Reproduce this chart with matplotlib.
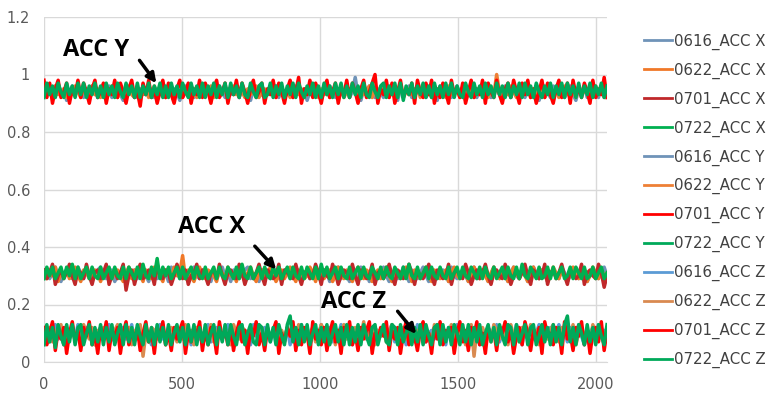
import numpy as np
import matplotlib.pyplot as plt

# sample values, in hundredths of g
acc_x_0616 = [30, 32, 29, 31, 33, 30, 28, 31, 32, 30, 29, 31, 33, 31, 29, 32, 30, 28, 31, 32,
              33, 30, 29, 31, 32, 28, 30, 31, 33, 29, 31, 30, 32, 29, 31, 33, 30, 28, 32, 31,
              29, 30, 32, 31, 28, 33, 30, 31, 29, 32, 30, 28, 31, 33, 30, 29, 32, 31, 30, 28,
              32, 29, 31, 33, 30, 31, 28, 32, 30, 29, 31, 32, 33, 29, 30, 31, 28, 32, 31, 30,
              29, 33, 31, 30, 28, 32, 31, 29, 30, 33, 31, 28, 30, 32, 29, 31, 33, 30, 29, 32,
              31, 28, 30, 32, 33, 29, 31, 30, 28, 32, 31, 29, 33, 30, 31, 28, 32, 30, 29, 31,
              33, 30, 28, 31, 32, 29, 30, 33, 31, 28, 32, 30, 29, 31, 33, 30, 28, 32, 31, 29,
              30, 32, 31, 28, 33, 30, 29, 31, 32, 30, 28, 31, 33, 29, 30, 32, 31, 28, 30, 33,
              31, 29, 32, 30, 28, 31, 33, 30, 29, 32, 31, 28, 30, 33, 31, 29, 32, 30, 28, 31,
              32, 30, 29, 33, 31, 28, 30, 32, 31, 29, 33, 30, 28, 31, 32, 30, 29, 31, 33, 30]
acc_x_0622 = [31, 29, 32, 30, 33, 28, 31, 30, 32, 29, 31, 33, 30, 28, 32, 31, 29, 30, 32, 31,
              28, 31, 33, 30, 29, 31, 32, 30, 28, 31, 33, 29, 32, 30, 31, 28, 32, 30, 29, 33,
              31, 30, 28, 32, 31, 29, 33, 30, 31, 37, 29, 32, 30, 28, 31, 33, 30, 29, 32, 31,
              30, 28, 32, 31, 29, 33, 30, 31, 28, 32, 30, 29, 31, 33, 30, 28, 31, 32, 29, 30,
              33, 31, 28, 30, 32, 29, 31, 33, 30, 28, 32, 31, 29, 30, 33, 31, 28, 32, 30, 29,
              31, 32, 28, 30, 33, 31, 29, 32, 30, 28, 31, 33, 30, 29, 32, 31, 28, 30, 32, 29,
              31, 33, 30, 28, 32, 31, 29, 30, 33, 31, 28, 32, 30, 29, 31, 33, 30, 28, 32, 31,
              29, 30, 32, 28, 31, 33, 30, 29, 32, 31, 28, 30, 33, 31, 29, 32, 30, 28, 31, 33,
              30, 29, 32, 31, 28, 30, 33, 31, 29, 32, 30, 28, 31, 33, 30, 29, 32, 31, 28, 30,
              33, 31, 29, 32, 30, 28, 31, 33, 30, 29, 32, 31, 28, 30, 33, 31, 29, 32, 30, 31]
acc_x_0701 = [32, 29, 31, 34, 27, 30, 32, 29, 31, 34, 30, 27, 32, 31, 29, 34, 30, 27, 31, 32,
              29, 31, 34, 27, 30, 32, 29, 31, 34, 25, 30, 32, 27, 31, 34, 29, 30, 32, 31, 27,
              34, 30, 29, 32, 31, 27, 30, 34, 31, 29, 32, 27, 30, 31, 34, 29, 32, 30, 27, 31,
              32, 29, 34, 30, 27, 31, 32, 30, 29, 34, 31, 27, 30, 32, 29, 31, 34, 30, 27, 32,
              31, 29, 30, 34, 27, 32, 31, 30, 29, 34, 30, 27, 31, 32, 29, 30, 34, 31, 27, 32,
              30, 29, 34, 31, 27, 30, 32, 31, 29, 34, 30, 27, 32, 31, 29, 30, 34, 27, 31, 32,
              29, 31, 34, 30, 27, 32, 31, 29, 30, 34, 31, 27, 32, 30, 29, 31, 34, 30, 27, 32,
              31, 29, 30, 34, 27, 31, 32, 30, 29, 34, 31, 27, 30, 32, 29, 31, 34, 30, 27, 31,
              32, 30, 29, 34, 31, 27, 30, 32, 29, 31, 34, 30, 27, 32, 31, 29, 30, 34, 27, 31,
              32, 29, 31, 34, 30, 27, 32, 31, 29, 30, 34, 27, 31, 32, 30, 29, 34, 31, 26, 30]
acc_x_0722 = [29, 33, 30, 33, 29, 31, 33, 29, 33, 30, 34, 29, 33, 29, 31, 33, 29, 33, 30, 29,
              33, 29, 31, 33, 29, 33, 30, 29, 33, 29, 33, 31, 29, 33, 29, 34, 30, 29, 33, 30,
              36, 29, 33, 30, 33, 29, 31, 33, 29, 33, 29, 31, 33, 29, 33, 30, 29, 33, 29, 31,
              33, 29, 33, 30, 29, 33, 31, 29, 33, 29, 34, 30, 29, 33, 29, 31, 33, 29, 33, 30,
              29, 33, 30, 33, 29, 31, 33, 29, 33, 30, 29, 33, 29, 33, 31, 29, 33, 29, 34, 30,
              33, 29, 31, 33, 29, 33, 30, 29, 33, 29, 31, 33, 29, 33, 30, 29, 33, 31, 29, 33,
              29, 33, 30, 29, 33, 31, 29, 33, 29, 34, 30, 29, 33, 29, 31, 33, 29, 33, 30, 29,
              33, 30, 29, 33, 29, 31, 33, 29, 33, 30, 29, 33, 31, 29, 33, 29, 33, 30, 29, 33,
              29, 31, 33, 29, 33, 30, 29, 33, 29, 34, 30, 29, 33, 31, 29, 33, 29, 30, 33, 29,
              33, 29, 31, 33, 29, 30, 33, 29, 33, 31, 29, 33, 29, 30, 33, 29, 31, 33, 29, 31]

acc_y_0616 = [94, 93, 95, 92, 96, 94, 93, 95, 91, 94, 96, 93, 95, 94, 92, 95, 93, 96, 94, 92,
              95, 93, 94, 96, 92, 94, 95, 93, 91, 95, 94, 96, 93, 92, 95, 94, 93, 96, 94, 92,
              95, 93, 94, 92, 96, 93, 95, 94, 91, 94, 96, 93, 95, 92, 94, 96, 93, 95, 94, 92,
              95, 93, 96, 94, 92, 95, 93, 94, 96, 92, 95, 94, 93, 91, 95, 94, 96, 93, 92, 95,
              94, 93, 96, 92, 95, 94, 93, 95, 92, 96, 94, 93, 95, 91, 94, 96, 93, 94, 92, 95,
              93, 96, 94, 92, 95, 93, 94, 96, 92, 94, 99, 93, 91, 95, 94, 96, 93, 92, 95, 94,
              92, 95, 93, 96, 94, 91, 95, 93, 94, 96, 92, 95, 94, 93, 96, 92, 94, 95, 93, 91,
              96, 94, 93, 95, 92, 94, 96, 93, 95, 91, 94, 96, 93, 92, 95, 94, 93, 96, 92, 94,
              95, 93, 91, 96, 94, 92, 95, 93, 96, 94, 92, 95, 93, 94, 96, 91, 95, 93, 94, 92,
              96, 94, 93, 95, 92, 94, 96, 93, 91, 95, 94, 96, 92, 93, 95, 94, 92, 96, 93, 94]
acc_y_0622 = [93, 95, 94, 92, 96, 93, 94, 95, 92, 94, 93, 96, 94, 92, 95, 93, 94, 96, 93, 95,
              92, 94, 95, 93, 96, 94, 92, 95, 93, 94, 96, 93, 92, 95, 94, 93, 95, 92, 94, 96,
              93, 95, 94, 92, 94, 96, 93, 95, 94, 92, 95, 93, 96, 94, 92, 94, 95, 93, 94, 96,
              92, 95, 93, 94, 95, 92, 94, 96, 93, 95, 94, 92, 95, 93, 94, 96, 92, 94, 95, 93,
              94, 96, 92, 95, 93, 94, 95, 92, 96, 94, 93, 95, 92, 94, 93, 96, 94, 92, 95, 93,
              95, 92, 94, 96, 93, 95, 92, 94, 93, 96, 94, 92, 95, 93, 94, 96, 92, 95, 93, 94,
              96, 93, 92, 95, 94, 93, 96, 92, 94, 95, 93, 94, 96, 92, 95, 93, 94, 92, 96, 93,
              94, 95, 92, 96, 93, 94, 95, 92, 94, 96, 93, 95, 92, 94, 93, 96, 94, 92, 95, 93,
              100, 94, 92, 95, 93, 96, 94, 92, 95, 93, 94, 96, 92, 95, 93, 94, 95, 92, 96, 94,
              93, 95, 92, 94, 96, 93, 95, 94, 92, 96, 93, 94, 95, 92, 94, 96, 93, 95, 92, 94]
acc_y_0701 = [98, 92, 97, 90, 95, 98, 92, 94, 97, 90, 95, 93, 98, 92, 97, 94, 90, 95, 98, 92,
              94, 97, 90, 95, 93, 98, 92, 97, 94, 90, 95, 98, 92, 94, 89, 97, 93, 98, 92, 95,
              90, 94, 98, 92, 97, 93, 90, 95, 98, 92, 94, 97, 90, 95, 93, 98, 92, 97, 94, 90,
              95, 98, 92, 94, 97, 90, 95, 93, 98, 92, 97, 94, 90, 95, 98, 92, 94, 97, 90, 95,
              93, 98, 92, 97, 94, 90, 95, 98, 92, 94, 99, 90, 95, 93, 98, 92, 97, 94, 90, 95,
              98, 92, 94, 97, 90, 95, 93, 98, 92, 97, 94, 90, 95, 98, 92, 94, 97, 100, 90, 95,
              93, 98, 92, 97, 90, 94, 98, 92, 95, 93, 97, 90, 98, 94, 92, 97, 93, 98, 90, 95,
              92, 97, 94, 90, 98, 93, 95, 92, 97, 90, 94, 98, 92, 95, 93, 98, 90, 97, 94, 92,
              98, 93, 90, 95, 97, 92, 98, 94, 90, 97, 93, 98, 92, 95, 90, 94, 98, 92, 97, 93,
              90, 95, 98, 92, 94, 97, 90, 98, 93, 95, 92, 97, 94, 90, 98, 92, 95, 93, 99, 92]
acc_y_0722 = [92, 97, 93, 96, 92, 97, 94, 92, 97, 93, 96, 92, 97, 93, 97, 92, 96, 93, 97, 92,
              96, 92, 97, 93, 96, 92, 97, 94, 92, 97, 93, 96, 92, 97, 92, 96, 93, 97, 92, 96,
              93, 97, 92, 96, 92, 97, 93, 96, 92, 97, 94, 92, 97, 93, 96, 92, 97, 92, 96, 93,
              97, 92, 96, 93, 97, 92, 97, 93, 96, 92, 97, 93, 92, 97, 94, 92, 96, 97, 92, 93,
              97, 92, 96, 93, 97, 92, 96, 93, 97, 92, 97, 94, 92, 96, 93, 97, 92, 96, 92, 97,
              93, 96, 92, 97, 93, 97, 92, 96, 92, 97, 93, 96, 92, 97, 93, 92, 97, 94, 92, 96,
              97, 92, 96, 93, 97, 92, 97, 91, 96, 93, 97, 92, 96, 93, 97, 92, 96, 92, 97, 93,
              96, 92, 97, 93, 97, 92, 96, 93, 92, 97, 94, 92, 97, 93, 96, 92, 97, 93, 96, 92,
              97, 93, 96, 92, 97, 92, 96, 93, 97, 92, 97, 93, 96, 92, 97, 94, 92, 96, 93, 97,
              92, 96, 93, 97, 92, 97, 93, 96, 92, 97, 92, 96, 93, 97, 92, 96, 93, 97, 92, 96]

acc_z_0616 = [9, 11, 7, 10, 13, 8, 10, 6, 12, 9, 11, 8, 13, 10, 7, 12, 9, 11, 6, 10,
              12, 8, 10, 13, 9, 7, 11, 10, 12, 8, 9, 13, 7, 10, 11, 8, 12, 9, 6, 11,
              10, 13, 8, 9, 12, 7, 11, 10, 8, 13, 9, 11, 6, 10, 12, 8, 9, 11, 13, 7,
              10, 12, 9, 8, 11, 13, 7, 10, 9, 12, 8, 11, 10, 6, 13, 9, 11, 8, 12, 10,
              7, 11, 13, 9, 10, 8, 12, 6, 11, 9, 10, 13, 8, 12, 7, 10, 11, 9, 13, 8,
              10, 12, 7, 11, 9, 13, 8, 10, 12, 6, 11, 9, 10, 13, 8, 11, 7, 12, 10, 9,
              12, 8, 11, 13, 7, 10, 9, 12, 6, 11, 10, 8, 13, 9, 12, 7, 10, 11, 8, 13,
              9, 11, 6, 12, 10, 8, 13, 9, 11, 7, 12, 10, 9, 13, 6, 11, 8, 12, 10, 9,
              13, 7, 10, 12, 9, 11, 8, 13, 10, 6, 12, 9, 11, 8, 10, 13, 7, 11, 9, 12,
              8, 10, 13, 9, 11, 7, 12, 10, 8, 13, 9, 6, 11, 10, 12, 8, 13, 9, 11, 10]
acc_z_0622 = [8, 10, 12, 7, 11, 9, 13, 6, 10, 8, 12, 9, 11, 7, 13, 10, 8, 12, 6, 11,
              9, 12, 10, 7, 8, 11, 13, 7, 9, 10, 12, 6, 11, 8, 13, 2, 10, 7, 12, 11,
              8, 10, 13, 6, 9, 12, 11, 7, 10, 8, 13, 9, 11, 6, 12, 10, 8, 11, 9, 13,
              7, 10, 12, 8, 11, 9, 6, 13, 10, 8, 12, 11, 7, 9, 10, 13, 8, 12, 6, 11,
              9, 10, 13, 7, 11, 8, 12, 9, 10, 6, 13, 8, 11, 8, 10, 12, 7, 9, 13, 11,
              8, 10, 12, 6, 11, 9, 13, 8, 10, 7, 12, 11, 9, 14, 8, 10, 12, 6, 11, 9,
              12, 7, 10, 13, 9, 11, 6, 12, 8, 10, 13, 7, 11, 9, 12, 8, 10, 6, 13, 11,
              9, 12, 8, 10, 13, 7, 11, 9, 12, 6, 10, 13, 2, 11, 8, 12, 9, 10, 7, 13,
              11, 8, 12, 10, 6, 13, 9, 11, 7, 12, 10, 8, 13, 9, 11, 6, 12, 10, 8, 11,
              13, 9, 7, 12, 10, 11, 8, 13, 6, 10, 12, 9, 11, 7, 13, 10, 8, 12, 9, 11]
acc_z_0701 = [12, 6, 10, 14, 4, 11, 8, 12, 3, 10, 14, 7, 11, 4, 12, 9, 14, 6, 10, 3,
              12, 8, 14, 4, 11, 9, 12, 3, 10, 14, 6, 11, 8, 12, 4, 10, 14, 7, 11, 3,
              12, 9, 14, 6, 10, 4, 12, 8, 11, 14, 3, 10, 7, 12, 9, 14, 4, 11, 6, 12,
              10, 3, 14, 8, 11, 6, 12, 4, 10, 14, 7, 11, 3, 12, 9, 14, 6, 10, 4, 12,
              8, 11, 14, 3, 10, 7, 12, 9, 14, 4, 11, 6, 12, 10, 3, 14, 8, 11, 6, 12,
              4, 10, 14, 7, 11, 3, 12, 9, 14, 6, 10, 4, 12, 8, 11, 14, 3, 10, 7, 12,
              9, 14, 4, 11, 8, 12, 3, 10, 14, 6, 12, 9, 4, 11, 14, 7, 10, 3, 12, 8,
              14, 6, 11, 9, 12, 3, 10, 14, 7, 11, 4, 12, 9, 14, 6, 10, 3, 12, 8, 11,
              4, 12, 10, 14, 7, 11, 3, 9, 12, 6, 14, 10, 4, 11, 8, 12, 3, 14, 9, 10,
              6, 12, 11, 3, 14, 8, 10, 4, 12, 9, 14, 6, 11, 3, 10, 12, 7, 14, 4, 11]
acc_z_0722 = [6, 13, 7, 12, 5, 13, 9, 6, 13, 7, 13, 6, 12, 13, 6, 10, 13, 6, 12, 7,
              13, 6, 12, 7, 13, 6, 10, 13, 6, 13, 7, 12, 6, 13, 9, 6, 13, 7, 12, 6,
              13, 7, 12, 6, 13, 6, 10, 13, 7, 12, 6, 13, 7, 13, 6, 12, 7, 13, 6, 10,
              13, 6, 12, 7, 13, 6, 13, 9, 6, 12, 13, 6, 10, 13, 7, 6, 13, 12, 6, 13,
              7, 12, 6, 13, 9, 6, 13, 16, 7, 12, 6, 13, 7, 13, 6, 10, 13, 6, 12, 7,
              13, 6, 10, 13, 7, 12, 6, 13, 6, 12, 7, 13, 6, 13, 9, 6, 12, 13, 6, 10,
              13, 7, 6, 13, 12, 6, 13, 7, 10, 13, 6, 12, 7, 13, 6, 13, 9, 6, 12, 13,
              6, 13, 7, 12, 6, 13, 10, 6, 13, 7, 13, 6, 12, 7, 13, 6, 10, 13, 7, 12,
              6, 13, 9, 6, 13, 12, 6, 13, 7, 10, 13, 6, 12, 13, 6, 9, 13, 7, 12, 6,
              13, 7, 12, 6, 13, 16, 7, 12, 6, 13, 10, 6, 13, 7, 12, 6, 13, 9, 6, 13]

series = [
    ('0616_ACC X', acc_x_0616, '#6F93B8'),
    ('0622_ACC X', acc_x_0622, '#F07828'),
    ('0701_ACC X', acc_x_0701, '#C0282A'),
    ('0722_ACC X', acc_x_0722, '#00B050'),
    ('0616_ACC Y', acc_y_0616, '#6F93B8'),
    ('0622_ACC Y', acc_y_0622, '#EE8035'),
    ('0701_ACC Y', acc_y_0701, '#FF0000'),
    ('0722_ACC Y', acc_y_0722, '#00A95A'),
    ('0616_ACC Z', acc_z_0616, '#5B9BD5'),
    ('0622_ACC Z', acc_z_0622, '#D98A50'),
    ('0701_ACC Z', acc_z_0701, '#FF0000'),
    ('0722_ACC Z', acc_z_0722, '#00A95A'),
]

n_samples = 2040

fig = plt.figure(figsize=(7.78, 4), dpi=100)
ax = fig.add_axes([44/778, 38/400, 563/778, 345/400])

for name, vals, col in series:
    v = np.array(vals) / 100
    x = np.linspace(0, n_samples, len(v))
    ax.plot(x, v, color=col, lw=2.5, label=name)

ax.set_xlim(0, n_samples)
ax.set_ylim(0, 1.2)
ax.set_xticks([0, 500, 1000, 1500, 2000])
ax.set_yticks([0, 0.2, 0.4, 0.6, 0.8, 1.0, 1.2])
ax.set_yticklabels(['0', '0.2', '0.4', '0.6', '0.8', '1', '1.2'])
ax.grid(True, color='#D9D9D9', lw=1)
ax.set_axisbelow(True)
for s in ['top', 'right', 'left']:
    ax.spines[s].set_visible(False)
ax.spines['bottom'].set_color('#D9D9D9')
ax.tick_params(length=0, labelsize=10.5, labelcolor='#595959')
ax.tick_params(axis='x', pad=11)
ax.tick_params(axis='y', pad=10)

lab_font = dict(fontsize=17, fontweight='bold', color='black', family='Open Sans')
ax.annotate('ACC Y', xy=(413, 0.967), xytext=(69, 1.085), va='center', **lab_font)
ax.annotate('', xy=(413, 0.962), xytext=(340, 1.057),
            arrowprops=dict(arrowstyle='-|>', color='black', lw=2.5, mutation_scale=14))
ax.annotate('ACC X', xy=(848, 0.32), xytext=(486, 0.47), va='center', **lab_font)
ax.annotate('', xy=(848, 0.315), xytext=(757, 0.41),
            arrowprops=dict(arrowstyle='-|>', color='black', lw=2.5, mutation_scale=14))
ax.annotate('ACC Z', xy=(1355, 0.094), xytext=(1004, 0.209), va='center', **lab_font)
ax.annotate('', xy=(1355, 0.09), xytext=(1275, 0.184),
            arrowprops=dict(arrowstyle='-|>', color='black', lw=2.5, mutation_scale=14))

leg = fig.legend(loc='upper left', bbox_to_anchor=(630/778, 1 - 20/400), frameon=False,
                 fontsize=10.8, handlelength=1.9, handletextpad=0.1, labelspacing=0.85,
                 labelcolor='#404040')
for ln in leg.get_lines():
    ln.set_linewidth(2)

fig.savefig('out.png', dpi=100)
